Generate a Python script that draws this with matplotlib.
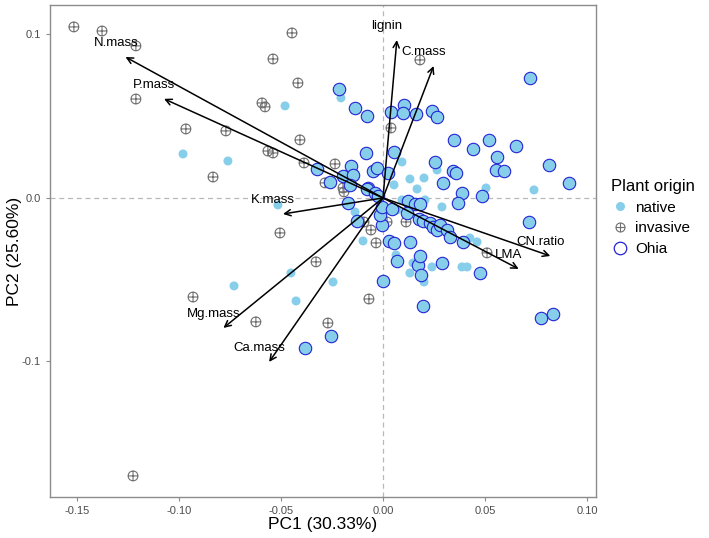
import matplotlib.pyplot as plt
from matplotlib.path import Path
from matplotlib.lines import Line2D

plt.rcParams['font.family'] = ['Liberation Sans', 'DejaVu Sans']

# scores (PC1, PC2)
native_x = [-0.0480, -0.0206, -0.0980, -0.0760, -0.0515, -0.0451, -0.0245, -0.0730, -0.0426,
            0.0132, 0.0147, 0.0201, 0.0240, 0.0387, 0.0412, 0.0064, -0.0098, 0.0426, 0.0461,
            0.0740, 0.0289, -0.0137, 0.0206, 0.0069, 0.0093, 0.0132, 0.0201, 0.0167, 0.0054,
            0.0505, 0.0265, 0.0093]
native_y = [0.0563, 0.0612, 0.0269, 0.0226, -0.0043, -0.0459, -0.0514, -0.0538, -0.0630,
            -0.0459, -0.0398, -0.0514, -0.0422, -0.0422, -0.0422, -0.0349, -0.0263, -0.0245, -0.0269,
            0.0049, -0.0055, -0.0086, -0.0012, -0.0073, 0.0220, 0.0116, 0.0122, 0.0055, 0.0080,
            0.0061, 0.0171, -0.0012]

invasive_x = [-0.1515, -0.1377, -0.1211, -0.0446, -0.0539, -0.0417, -0.0593, -0.0578, -0.1211,
              -0.0966, -0.0770, -0.0407, -0.0564, -0.0539, -0.0833, -0.0387, -0.0235, -0.0196,
              -0.0191, -0.0284, -0.0147, -0.0505, -0.0328, -0.0931, -0.0623, -0.0270, -0.0069,
              0.0181, 0.0039, 0.0510, -0.0059, -0.0034, 0.0020, 0.0113, -0.0093, 0.0123, -0.1225]
invasive_y = [0.1046, 0.1021, 0.0930, 0.1009, 0.0850, 0.0703, 0.0581, 0.0557, 0.0605,
              0.0422, 0.0410, 0.0355, 0.0287, 0.0275, 0.0128, 0.0214, 0.0208, 0.0061,
              0.0037, 0.0092, 0.0147, -0.0214, -0.0391, -0.0606, -0.0758, -0.0765, -0.0618,
              0.0844, 0.0428, -0.0336, -0.0196, -0.0275, -0.0147, -0.0147, -0.0147, -0.0092, -0.1700]

ohia_x = [-0.0216, -0.0324, -0.0260, -0.0196, -0.0172, -0.0255, -0.0382, 0.0000, 0.0069, 0.0172,
          0.0186, 0.0289, 0.0475, 0.0196, 0.0716, 0.0775, 0.0833, 0.0132, 0.0029, 0.0392,
          0.0912, 0.0387, 0.0485, 0.0368, -0.0127, -0.0005, -0.0015, -0.0005, 0.0044, 0.0123,
          0.0157, 0.0181, 0.0176, 0.0118, 0.0721, -0.0137, -0.0078, 0.0039, 0.0103, 0.0098,
          0.0162, 0.0240, 0.0265, 0.0348, 0.0441, 0.0520, 0.0652, 0.0814, 0.0559, 0.0554,
          0.0593, 0.0255, 0.0343, 0.0358, 0.0294, 0.0054, -0.0083, -0.0157, -0.0049, -0.0029,
          0.0025, -0.0074, -0.0147, -0.0162, -0.0078, -0.0039, -0.0025, 0.0054, 0.0181, 0.0196,
          0.0230, 0.0245, 0.0265, 0.0279, 0.0314, 0.0328]
ohia_y = [0.0667, 0.0177, 0.0098, 0.0135, -0.0031, -0.0844, -0.0917, -0.0508, -0.0385, -0.0410,
          -0.0471, -0.0398, -0.0459, -0.0661, -0.0147, -0.0734, -0.0709, -0.0269, -0.0263, -0.0269,
          0.0092, 0.0031, 0.0012, -0.0031, -0.0141, -0.0165, -0.0104, -0.0055, -0.0067, -0.0018,
          -0.0037, -0.0037, -0.0128, -0.0092, 0.0734, 0.0550, 0.0502, 0.0526, 0.0569, 0.0520,
          0.0514, 0.0532, 0.0495, 0.0355, 0.0300, 0.0355, 0.0318, 0.0202, 0.0251, 0.0171,
          0.0165, 0.0220, 0.0165, 0.0153, 0.0092, 0.0281, 0.0275, 0.0196, 0.0165, 0.0183,
          0.0153, 0.0061, 0.0141, 0.0080, 0.0055, 0.0031, 0.0012, -0.0275, -0.0355, -0.0141,
          -0.0153, -0.0177, -0.0196, -0.0165, -0.0196, -0.0239]

# loadings (arrow tips)
traits = ['N.mass', 'P.mass', 'lignin', 'C.mass', 'K.mass', 'Mg.mass', 'Ca.mass', 'CN.ratio', 'LMA']
load_x = [-0.1262, -0.1073, 0.0068, 0.0248, -0.0490, -0.0782, -0.0558, 0.0820, 0.0665]
load_y = [0.0862, 0.0606, 0.0966, 0.0807, -0.0098, -0.0795, -0.1003, -0.0355, -0.0434]

sky = '#87CEEB'
grey = '#707070'
blue = '#2424d4'

oplus = Path.make_compound_path(
    Path.unit_circle(),
    Path([(-1, 0), (1, 0), (0, -1), (0, 1)], [Path.MOVETO, Path.LINETO, Path.MOVETO, Path.LINETO]))

fig = plt.figure(figsize=(7.09, 5.38), dpi=100)
ax = fig.add_axes([50 / 709, 1 - 497 / 538, 546 / 709, 492 / 538])

ax.axhline(0, color='#b8b8b8', ls=(0, (4, 3)), lw=0.9, zorder=1)
ax.axvline(0, color='#b8b8b8', ls=(0, (4, 3)), lw=0.9, zorder=1)

ax.scatter(native_x, native_y, s=42, color=sky, edgecolors='none', zorder=2)
ax.scatter(invasive_x, invasive_y, s=50, marker=oplus, facecolors='none',
           edgecolors=grey, linewidths=0.8, zorder=3)
ax.scatter(ohia_x, ohia_y, s=80, color=sky, edgecolors=blue, linewidths=0.8, zorder=4)

for t, lx, ly in zip(traits, load_x, load_y):
    ax.annotate('', xy=(lx, ly), xytext=(0, 0),
                arrowprops=dict(arrowstyle='->', color='black', lw=1.1,
                                shrinkA=0, shrinkB=0, mutation_scale=11), zorder=5)
    ax.annotate(t, xy=(lx, ly), xytext=(-7, 10), textcoords='offset points',
                ha='center', va='center', fontsize=9.5, color='black', zorder=6)

ax.set_xlim(-0.1632, 0.1044)
ax.set_ylim(-0.1829, 0.1180)
ax.set_xticks([-0.15, -0.10, -0.05, 0.00, 0.05, 0.10])
ax.set_xticklabels(['-0.15', '-0.10', '-0.05', '0.00', '0.05', '0.10'])
ax.set_yticks([-0.1, 0.0, 0.1])
ax.set_yticklabels(['-0.1', '0.0', '0.1'])
ax.tick_params(length=3, width=0.8, color='#8c8c8c', labelcolor='#4d4d4d', labelsize=8)
for sp in ax.spines.values():
    sp.set_color('#8c8c8c')
    sp.set_linewidth(1.0)

ax.set_xlabel('PC1 (30.33%)', fontsize=12.5)
ax.set_ylabel('PC2 (25.60%)', fontsize=12.5)
ax.xaxis.set_label_coords(0.5, -0.041)
ax.yaxis.set_label_coords(-0.052, 0.5)

handles = [
    Line2D([], [], ls='none', marker='o', markersize=6.5, color=sky, markeredgecolor='none'),
    Line2D([], [], ls='none', marker=oplus, markersize=6.5, markerfacecolor='none',
           markeredgecolor=grey, markeredgewidth=0.8),
    Line2D([], [], ls='none', marker='o', markersize=9, markerfacecolor='none',
           markeredgecolor=blue, markeredgewidth=0.9),
]
fig.legend(handles, ['native', 'invasive', 'Ohia'], title='Plant origin',
           loc='upper left', bbox_to_anchor=(597 / 709, 1 - 165 / 538),
           frameon=False, fontsize=11, title_fontsize=12, handletextpad=0.4,
           labelspacing=0.45, alignment='left', handlelength=1.2)

fig.savefig('out.png', dpi=100)
